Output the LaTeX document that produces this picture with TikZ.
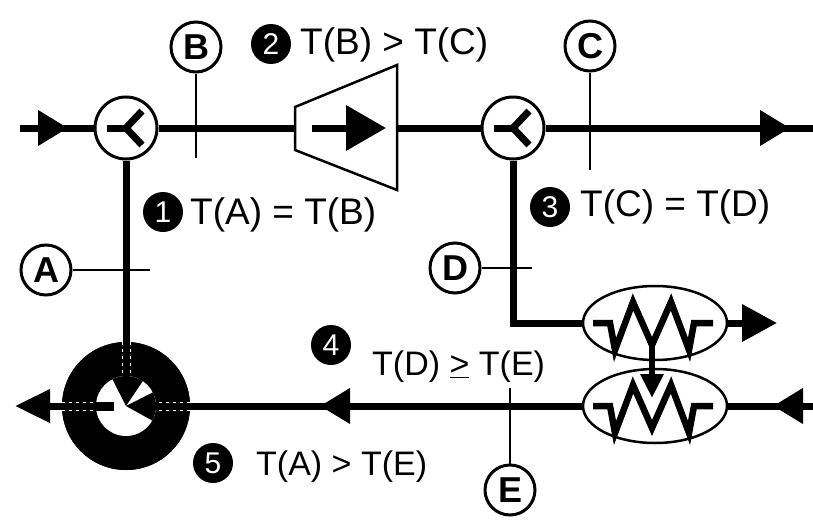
\documentclass[tikz,border=0pt]{standalone}
\usepackage{fontspec}
\setmainfont{Liberation Sans}
\usetikzlibrary{arrows.meta,shapes.geometric}
\begin{document}
\begin{tikzpicture}[x=1pt,y=-1pt,
  flow/.style={line width=7pt,line join=miter},
  tickline/.style={line width=2.5pt},
  lbl/.style={circle,draw,line width=3pt,minimum size=50pt,inner sep=0pt,fill=white,font=\fontsize{36}{36}\selectfont\bfseries},
  badge/.style={circle,fill=black,text=white,minimum size=40pt,inner sep=0pt,font=\fontsize{30}{30}\selectfont},
  eqn/.style={anchor=west,inner sep=0pt,font=\fontsize{37}{40}\selectfont},
  eqs/.style={anchor=west,inner sep=0pt,font=\fontsize{34}{38}\selectfont},
  valve/.style={circle,draw,line width=3pt,minimum size=62pt,inner sep=0pt,fill=white},
  hx/.style={ellipse,draw,line width=2.5pt,minimum width=144pt,minimum height=74pt,inner sep=0pt,fill=white},
  zig/.style={line width=6.5pt,line join=miter},
  bigtip/.style={-{Triangle[length=30pt,width=34pt]}},
  dashw/.style={white,line width=0.8pt,dash pattern=on 3pt off 4pt},
]
\useasboundingbox (0,0) rectangle (813,519);

% ---- coordinates
\coordinate (inL) at (20,128);
\coordinate (a1s) at (40,128);
\coordinate (a1e) at (68,128);
\coordinate (cl) at (295,128);
\coordinate (cr) at (397,128);
\coordinate (ca) at (312,128);
\coordinate (cb) at (386,128);
\coordinate (outR) at (813,128);
\coordinate (a2s) at (762,128);
\coordinate (a2e) at (790,128);
\coordinate (corner) at (513,323);
\coordinate (a3e) at (777,323);
\coordinate (inR2) at (813,406);
\coordinate (a4s) at (807,406);
\coordinate (a4e) at (773,406);
\coordinate (a5s) at (352,406);
\coordinate (a5e) at (320,406);
\coordinate (bl) at (15,406);

% ---- components
\node[valve] (v1) at (126,128) {};
\node[valve] (v2) at (513,128) {};
\node[hx] (h1) at (655,323) {};
\node[hx] (h2) at (655,406) {};

% ---- flow lines
\draw[flow] (inL) -- (v1.west);
\draw[flow,bigtip] (a1s) -- (a1e);
\draw[flow] (v1.east) -- (cl);
\draw[line width=2.5pt,line join=miter] (295,107) -- (397,65) -- (397,190) -- (295,150) -- cycle;
\draw[flow,-{Triangle[length=40pt,width=44pt]}] (ca) -- (cb);
\draw[flow] (cr) -- (v2.west);
\draw[flow] (v2.east) -- (outR);
\draw[flow,bigtip] (a2s) -- (a2e);
\draw[flow] (v2.south) -- (corner) -- (h1.west);
\draw[flow,-{Triangle[length=35pt,width=36pt]}] (h1.east) -- (a3e);
\draw[flow] (inR2) -- (h2.east);
\draw[flow,bigtip] (a4s) -- (a4e);
\node[circle,fill=black,minimum size=128pt,inner sep=0pt] (ring) at (126,406) {};
\draw[flow] (v1.south) -- (ring.north);
\draw[flow] (h2.west) -- (ring.east);
\draw[flow,bigtip] (a5s) -- (a5e);
\draw[flow,-{Triangle[length=35pt,width=32pt]}] (ring.west) -- (bl);

% ---- ring interior
\fill[black] (ring) circle (64);
\fill[white] (ring.center) circle (30);
\fill[black] (ring.center) -- ++(-117:30) arc[start angle=-117,end angle=-56,radius=30] -- cycle;
\fill[black] (ring.center) -- ++(-27:30) arc[start angle=-27,end angle=29,radius=30] -- cycle;
\draw[line width=9pt] ([xshift=-32pt]ring.center) -- ([xshift=-12pt]ring.center);
\draw[dashw] ([yshift=4pt]ring.west) -- ([yshift=4pt,xshift=-32pt]ring.center);
\draw[dashw] ([yshift=-4pt]ring.west) -- ([yshift=-4pt,xshift=-32pt]ring.center);
\draw[dashw] ([yshift=4pt]ring.east) -- ([yshift=4pt,xshift=32pt]ring.center);
\draw[dashw] ([yshift=-4pt]ring.east) -- ([yshift=-4pt,xshift=32pt]ring.center);
\draw[dashw] ([xshift=-4pt]ring.north) -- ([xshift=-4pt,yshift=32pt]ring.center);
\draw[dashw] ([xshift=4pt]ring.north) -- ([xshift=4pt,yshift=32pt]ring.center);

% ---- valve symbols
\draw[flow] ([xshift=-19pt]v1.center) -- (v1.center);
\draw[flow] (v1.center) ++(16,-17) -- (v1.center) -- ++(16,17);
\draw[flow] ([xshift=-19pt]v2.center) -- (v2.center);
\draw[flow] (v2.center) ++(16,-17) -- (v2.center) -- ++(16,17);

% ---- heat exchanger zigzags
\draw[zig] (h1.center) ++(-62,0) -- ++(17,0) -- ++(5,27) -- ++(18,-48) -- ++(19,43) -- ++(19,-43) -- ++(18,48) -- ++(5,-27) -- ++(19,0);
\draw[zig] (h2.center) ++(-62,0) -- ++(17,0) -- ++(5,27) -- ++(18,-48) -- ++(19,43) -- ++(19,-43) -- ++(18,48) -- ++(5,-27) -- ++(19,0);
\coordinate (zm) at (652,345);
\coordinate (zt) at (652,398);
\draw[line width=6pt,-{Triangle[length=24pt,width=22pt]}] (zm) -- (zt);

% ---- measurement labels
\node[lbl] (B) at (196,47) {B};
\coordinate (Bt) at (196,158);
\draw[tickline] (B.south) -- (Bt);
\node[lbl] (C) at (590,46) {C};
\coordinate (Ct) at (590,170);
\draw[tickline] (C.south) -- (Ct);
\node[lbl] (A) at (46,270) {A};
\coordinate (At) at (150,270);
\draw[tickline] (A.east) -- (At);
\node[lbl] (D) at (455,268) {D};
\coordinate (Dt) at (532,268);
\draw[tickline] (D.east) -- (Dt);
\node[lbl] (E) at (510,490) {E};
\coordinate (Et) at (510,388);
\draw[tickline] (E.north) -- (Et);

% ---- numbered statements
\node[badge] (n1) at (163,212) {1};
\node[eqn] (t1) at (190,215) {T(A) = T(B)};
\node[badge] (n2) at (271,44) {2};
\node[eqn] (t2) at (300,45) {T(B) > T(C)};
\node[badge] (n3) at (550,207) {3};
\node[eqn] (t3) at (580,207) {T(C) = T(D)};
\node[badge] (n4) at (331,345) {4};
\node[eqs] (t4) at (372,367) {T(D) \underline{>} T(E)};
\node[badge] (n5) at (213,463) {5};
\node[eqs] (t5) at (256,467) {T(A) > T(E)};
\end{tikzpicture}
\end{document}
